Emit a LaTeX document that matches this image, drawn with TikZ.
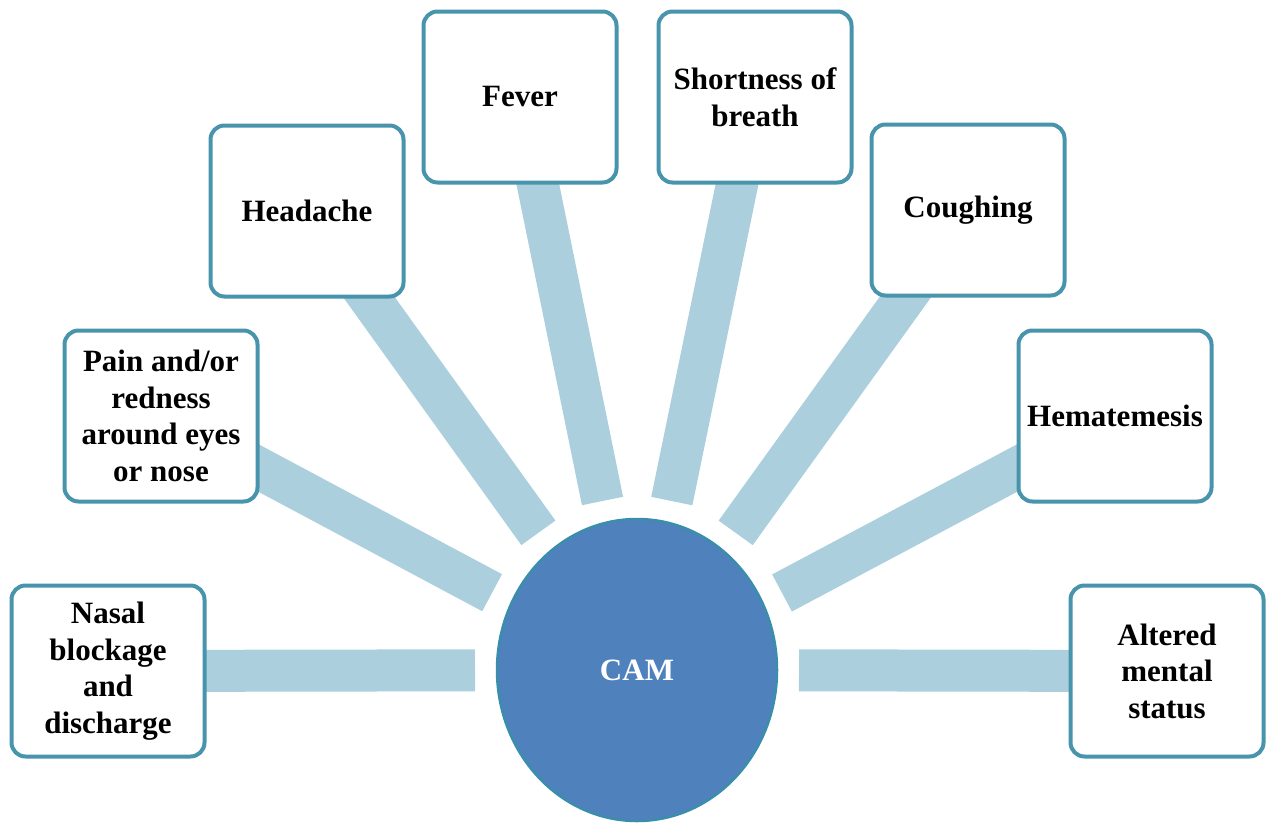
\documentclass[tikz,border=0pt]{standalone}
\usepackage{fontspec}
\setmainfont{Liberation Serif}
\usetikzlibrary{shapes.geometric}
\pgfdeclarelayer{background}
\pgfsetlayers{background,main}
\definecolor{boxc}{RGB}{72,148,172}
\definecolor{barc}{RGB}{171,207,221}
\definecolor{camfill}{RGB}{79,129,189}
\definecolor{camline}{RGB}{58,142,172}
\tikzset{
  symbox/.style={draw=boxc, line width=4pt, rounded corners=14pt, fill=white,
    minimum width=193pt, minimum height=171pt, inner sep=2pt, align=center,
    font=\bfseries\fontsize{31}{36.5}\selectfont},
  camnode/.style={ellipse, draw=camline, line width=2.5pt, fill=camfill,
    minimum width=280pt, minimum height=302pt, inner sep=0pt, outer sep=0pt,
    text=white, font=\bfseries\fontsize{31}{36}\selectfont},
  bar/.style={draw=barc, line width=42pt, shorten >=22pt}
}
\begin{document}
\begin{tikzpicture}[x=1pt, y=-1pt]
\useasboundingbox (0,0) rectangle (1268,827);
\node[camnode] (cam) at (637,670) {CAM};
\node[symbox] (nasal) at (108,671) {Nasal\\blockage\\and\\discharge};
\node[symbox] (pain) at (161,416) {Pain and/or\\redness\\around eyes\\or nose};
\node[symbox] (head) at (307,211) {Headache};
\node[symbox] (fever) at (520,97) {Fever};
\node[symbox] (sob) at (755,97) {Shortness of\\breath};
\node[symbox] (cough) at (968,210) {Coughing};
\node[symbox] (hemat) at (1115,416) {Hematemesis};
\node[symbox] (alter) at (1167,671) {Altered\\mental\\status};
\begin{pgfonlayer}{background}
\foreach \n in {nasal,pain,head,fever,sob,cough,hemat,alter}
  \draw[bar] (\n.center) -- (cam);
\end{pgfonlayer}
\end{tikzpicture}
\end{document}
